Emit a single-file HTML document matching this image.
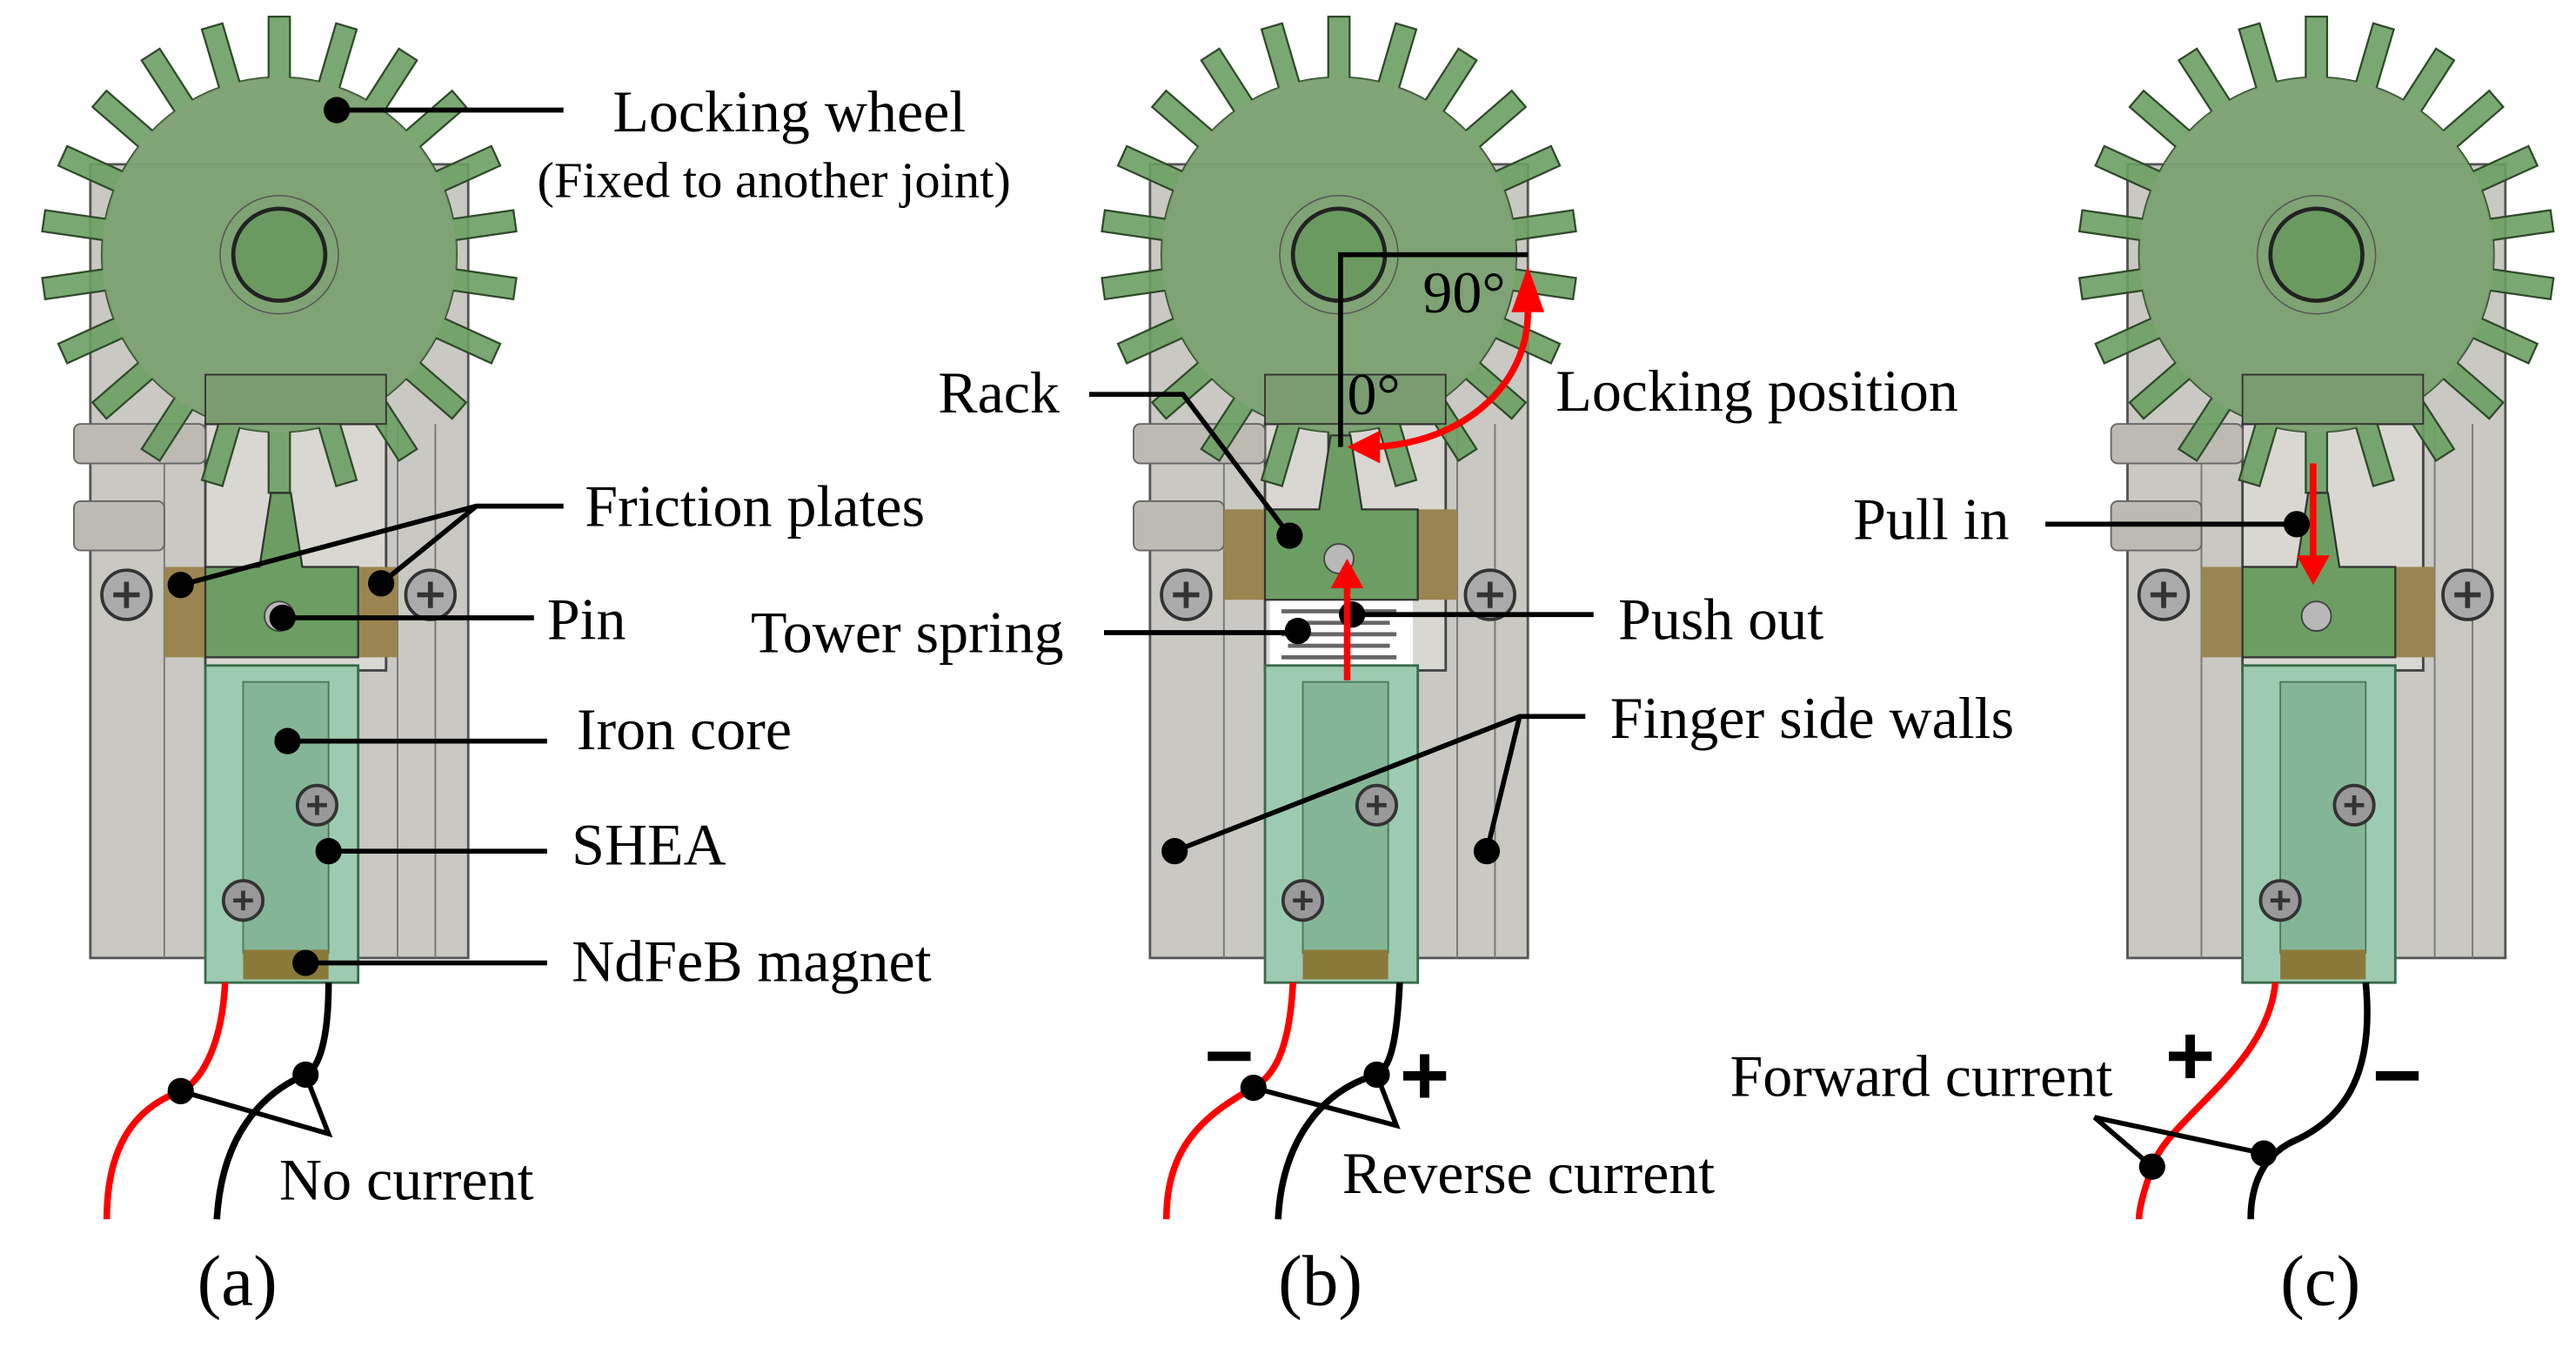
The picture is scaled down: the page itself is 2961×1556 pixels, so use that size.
<!DOCTYPE html>
<html><head><meta charset="utf-8"><style>
html,body{margin:0;padding:0;background:#fff}
svg{display:block}
text{font-family:"Liberation Serif",serif;fill:#000}
</style></head><body>
<svg id="s" width="2961" height="1556" viewBox="0 0 1568 824" preserveAspectRatio="none" xmlns="http://www.w3.org/2000/svg">
<rect width="1568" height="824" fill="#fff"/>
<g id="panels"></g>
<g stroke="#000" stroke-width="3" fill="none">
<path d="M205,67H343"/>
<path d="M110,356L290,308H343M232,355L290,308"/>
<path d="M172,376H325"/>
<path d="M175,451H333"/>
<path d="M200,518H333"/>
<path d="M186,586H333"/>
<path d="M110,664L200,690L186,654"/>
<path d="M663,240H720L785,326"/>
<path d="M672,385H790"/>
<path d="M823,374H970"/>
<path d="M965,436H925L715,518M925,436L905,518"/>
<path d="M763,662L850,685L838,654"/>
<path d="M816,272V155H930"/>
<path d="M1245,319H1398"/>
<path d="M1310,710L1275,680L1378,702"/>
</g>
<g fill="#000">
<circle cx="205" cy="67" r="8"/><circle cx="110" cy="356" r="8"/><circle cx="232" cy="355" r="8"/>
<circle cx="172" cy="376" r="8"/><circle cx="175" cy="451" r="8"/><circle cx="200" cy="518" r="8"/>
<circle cx="186" cy="586" r="8"/><circle cx="110" cy="664" r="8"/><circle cx="186" cy="654" r="8"/>
<circle cx="785" cy="326" r="8"/><circle cx="790" cy="384" r="8"/><circle cx="823" cy="374" r="8"/>
<circle cx="715" cy="518" r="8"/><circle cx="905" cy="518" r="8"/>
<circle cx="763" cy="662" r="8"/><circle cx="838" cy="654" r="8"/>
<circle cx="1398" cy="319" r="8"/><circle cx="1310" cy="710" r="8"/><circle cx="1378" cy="702" r="8"/>
</g>
<g stroke="#f00" stroke-width="4" fill="none">
<path d="M930,190C930,235 890,270 835,272"/>
<path d="M820,414V355"/>
<path d="M1408,282V340"/>
</g>
<g fill="#f00">
<path d="M930,162L920,190L940,190Z"/>
<path d="M820,272L840,262L840,282Z"/>
<path d="M820,340L810,358L830,358Z"/>
<path d="M1408,356L1398,338L1418,338Z"/>
</g>
<g font-size="36">
<text x="373" y="80">Locking wheel</text>
<text x="327" y="120" font-size="31">(Fixed to another joint)</text>
<text x="356" y="320">Friction plates</text>
<text x="333" y="389">Pin</text>
<text x="351" y="456">Iron core</text>
<text x="348" y="526">SHEA</text>
<text x="348" y="597">NdFeB magnet</text>
<text x="170" y="730">No current</text>
<text x="120" y="794" font-size="44">(a)</text>
<text x="571" y="251">Rack</text>
<text x="457" y="397">Tower spring</text>
<text x="985" y="389">Push out</text>
<text x="980" y="449">Finger side walls</text>
<text x="947" y="250">Locking position</text>
<text x="866" y="190">90°</text>
<text x="820" y="252">0°</text>
<text x="817" y="726">Reverse current</text>
<text x="778" y="794" font-size="44">(b)</text>
<text x="1128" y="328">Pull in</text>
<text x="1053" y="667">Forward current</text>
<text x="1388" y="794" font-size="44">(c)</text>
</g>
<g font-weight="bold" font-size="52">
<text x="733" y="660" style="font-family:'Liberation Sans',sans-serif">−</text>
<text x="852" y="672" style="font-family:'Liberation Sans',sans-serif">+</text>
<text x="1318" y="660" style="font-family:'Liberation Sans',sans-serif">+</text>
<text x="1444" y="672" style="font-family:'Liberation Sans',sans-serif">−</text>
</g>
</svg>
<script>
(function(){
var NS="http://www.w3.org/2000/svg";
var g=document.getElementById('panels');
function el(t,a,p){var e=document.createElementNS(NS,t);for(var k in a)e.setAttribute(k,a[k]);(p||g).appendChild(e);return e;}
function gear(cx,cy){
 var n=22,ro=145,ri=108,d="";
 for(var i=0;i<n;i++){
  var a=i*2*Math.PI/n, w=0.045, wi=0.06;
  var pts=[[ri,a-wi],[ro,a-w],[ro,a+w],[ri,a+wi]];
  pts.forEach(function(p,j){var x=cx+p[0]*Math.sin(p[1]),y=cy-p[0]*Math.cos(p[1]);d+=(i==0&&j==0?"M":"L")+x.toFixed(1)+","+y.toFixed(1);});
  var a2=(i+1)*2*Math.PI/n-wi;
  d+="A"+ri+","+ri+" 0 0 1 "+(cx+ri*Math.sin(a2)).toFixed(1)+","+(cy-ri*Math.cos(a2)).toFixed(1);
 }
 return d+"Z";
}
function wire(d,c){el('path',{d:d,stroke:c,'stroke-width':4,fill:'none'});}
function panel(o,ry,spring){
 var G=el('g',{transform:'translate('+o+',0)'});
 function e(t,a){return el(t,a,G);}
 e('rect',{x:55,y:100,width:230,height:483,fill:'#c9c8c2',stroke:'#555','stroke-width':1.5});
 [100,125,218,242,265].forEach(function(x){e('line',{x1:x,y1:258,x2:x,y2:583,stroke:'#777','stroke-width':1});});
 e('rect',{x:125,y:258,width:110,height:150,fill:'#d8d7d2',stroke:'#444','stroke-width':1.5});
 e('rect',{x:45,y:258,width:80,height:24,rx:4,fill:'#bdbab4',stroke:'#666'});
 e('rect',{x:45,y:305,width:55,height:30,rx:4,fill:'#bdbab4',stroke:'#666'});
 e('path',{d:gear(170,155),fill:'#6c9e63',stroke:'#2f4a2a','stroke-width':1.2,'fill-opacity':0.9});
 e('circle',{cx:170,cy:155,r:108,fill:'#86a47a','fill-opacity':0.6});
 e('rect',{x:125,y:228,width:110,height:30,fill:'#7a9c70',stroke:'#333','stroke-width':1});
 e('circle',{cx:170,cy:155,r:28,fill:'#6a9a60',stroke:'#222','stroke-width':2.5});
 e('circle',{cx:170,cy:155,r:36,fill:'none',stroke:'#555','stroke-width':0.8});
 [77,262].forEach(function(x){e('circle',{cx:x,cy:362,r:15,fill:'#aaa',stroke:'#333','stroke-width':2});
  e('path',{d:'M'+(x-8)+',362H'+(x+8)+'M'+x+','+(362-8)+'V'+(362+8),stroke:'#333','stroke-width':3});});
 if(spring){
  e('rect',{x:128,y:ry+55,width:87,height:50,fill:'#fff'});
  for(var k=0;k<6;k++)e('line',{x1:135+(k%2)*4,y1:ry+62+k*7,x2:205-(k%2)*4,y2:ry+62+k*7,stroke:'#666','stroke-width':2.5});
 }
 e('rect',{x:100,y:ry,width:25,height:55,fill:'#9a8450'});
 e('rect',{x:218,y:ry,width:24,height:55,fill:'#9a8450'});
 e('path',{d:'M125,'+ry+'H158L165,'+(ry-45)+'H177L184,'+ry+'H218V'+(ry+55)+'H125Z',fill:'#6c9e63',stroke:'#333','stroke-width':1.2});
 e('circle',{cx:170,cy:ry+30,r:9,fill:'#b8b8b8',stroke:'#444','stroke-width':1});
 e('rect',{x:125,y:405,width:93,height:193,fill:'#9dcbb1',stroke:'#3a6a4a','stroke-width':1.5});
 e('rect',{x:148,y:415,width:52,height:165,fill:'#85b597',stroke:'#4a7a5a','stroke-width':1});
 e('rect',{x:148,y:578,width:52,height:18,fill:'#8a7a3a'});
 [[193,490],[148,548]].forEach(function(p){e('circle',{cx:p[0],cy:p[1],r:12,fill:'#999',stroke:'#333','stroke-width':2});
  e('path',{d:'M'+(p[0]-6)+','+p[1]+'H'+(p[0]+6)+'M'+p[0]+','+(p[1]-6)+'V'+(p[1]+6),stroke:'#333','stroke-width':2.5});});
}
panel(0,345,false);
panel(645,310,true);
panel(1240,345,false);
wire('M137,598C135,640 120,660 110,664C80,675 65,700 65,742','#f00');
wire('M200,598C200,630 195,650 186,654C160,665 135,690 132,742','#000');
wire('M787,598C785,640 775,655 763,662C730,680 710,700 710,742','#f00');
wire('M852,598C850,640 845,650 838,654C800,665 780,700 778,742','#000');
wire('M1385,598C1380,650 1320,680 1310,710C1305,725 1302,735 1302,742','#f00');
wire('M1440,598C1445,650 1430,680 1395,695C1375,705 1370,725 1370,742','#000');
})();
</script>
</body></html>
